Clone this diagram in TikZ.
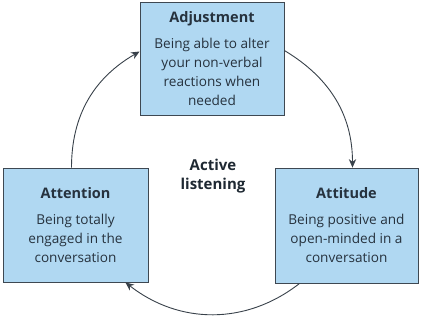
\documentclass[tikz,border=0pt]{standalone}
\usepackage{fontspec}
\setmainfont{Open Sans}
\usepackage{xcolor}
\usepackage{tikz}
\usetikzlibrary{arrows.meta}
\definecolor{boxfill}{RGB}{176,216,242}
\definecolor{boxline}{RGB}{62,72,82}
\definecolor{inktext}{RGB}{38,50,62}
\newcommand{\boxhead}[1]{{\fontsize{14.5}{19}\selectfont\bfseries #1}}
\tikzset{
  listenbox/.style  = {rectangle, draw=boxline, fill=boxfill, line width=0.8pt,
                       align=center, font=\fontsize{13.6}{19}\selectfont, text=inktext,
                       inner sep=2pt},
  listenflow/.style = {-{Stealth[length=3mm,width=2.6mm]}, draw=boxline!90!black,
                       line width=0.9pt},
  listenhub/.style  = {align=center, font=\fontsize{15}{18.5}\selectfont\bfseries,
                       text=inktext!80!black},
}

\begin{document}
\begin{tikzpicture}[x=1pt,y=1pt]
  \useasboundingbox (0,0) rectangle (421,317);
  \node[listenbox, minimum width=144pt, minimum height=113pt] (adjust) at (212,258.5)
        {\boxhead{Adjustment}\\[7pt]Being able to alter\\your non-verbal\\reactions when\\needed};
  \node[listenbox, minimum width=145pt, minimum height=114pt] (attend) at (75.5,92)
        {\boxhead{Attention}\\[7pt]Being totally\\engaged in the\\conversation};
  \node[listenbox, minimum width=143pt, minimum height=115pt] (attit)  at (346.5,91.5)
        {\boxhead{Attitude}\\[7pt]Being positive and\\open-minded in a\\conversation};
  \node[listenhub] (hub) at (213,141) {Active\\listening};

  \draw[listenflow] ([xshift=-4pt]attend.north) to[out=90,in=210] ([yshift=7pt]adjust.west);
  \draw[listenflow] ([yshift=8pt]adjust.east) to[out=-31,in=90] ([xshift=6pt]attit.north);
  \draw[listenflow] ([xshift=25pt]attit.south west) to[out=218,in=-38] ([xshift=-23pt]attend.south east);
\end{tikzpicture}
\end{document}
